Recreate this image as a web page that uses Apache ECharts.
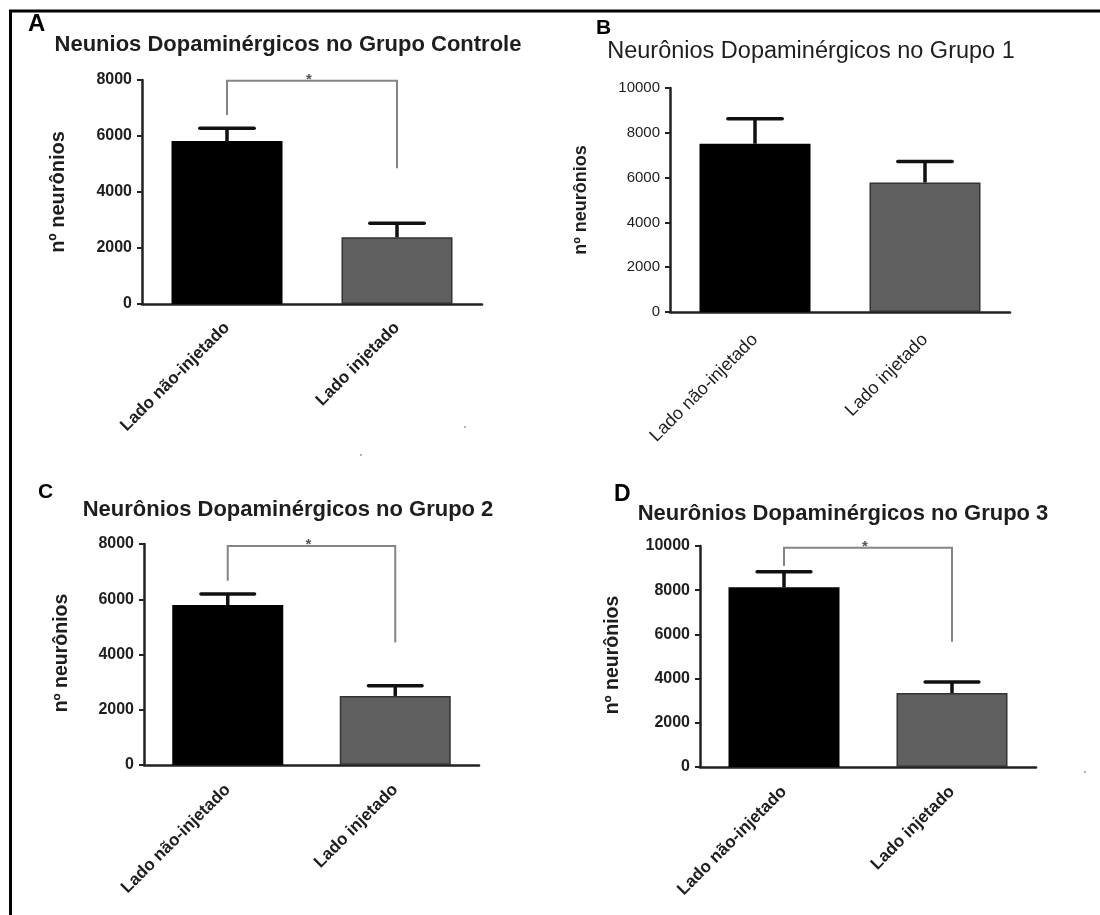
<!DOCTYPE html>
<html><head><meta charset="utf-8">
<script src="https://cdn.jsdelivr.net/npm/echarts@6/dist/echarts.min.js"></script>
<style>html,body{margin:0;padding:0;background:#fff}#c{width:1100px;height:915px}</style>
</head><body><div id="c"></div>
<script>
// ---------- data ----------
const categories = ['Lado não-injetado', 'Lado injetado'];
const titles = [
  'Neunios Dopaminérgicos no Grupo Controle',
  'Neurônios Dopaminérgicos no Grupo 1',
  'Neurônios Dopaminérgicos no Grupo 2',
  'Neurônios Dopaminérgicos no Grupo 3'
];
const panelLetters = ['A', 'B', 'C', 'D'];
const yAxisName = 'nº neurônios';
const meanA = [5820, 2380];
const errTopA = [6275, 2880];
const meanB = [7510, 5780];
const errTopB = [8630, 6720];
const meanC = [5790, 2500];
const errTopC = [6190, 2870];
const meanD = [8130, 3350];
const errTopD = [8840, 3850];
// significance brackets: [bar height, left leg end, right leg end]
const bracketA = [7975, 6750, 4850];
const bracketC = [7930, 6670, 4430];
const bracketD = [9925, 9095, 5665];
const yMax = [8000, 10000, 8000, 10000];
const yInterval = 2000;
const sigLabel = '*';

// ---------- layout / style ----------
const FONT = 'Liberation Sans, Arial, sans-serif';
const TXT = '#1e1e1e';
const panels = [
  {mean: meanA, err: errTopA, br: bracketA, grid: {left: 142, top: 80, width: 340, height: 224}, bold: true, xMargin: 21,
   title: {x: 288, y: 45, size: 22}, letter: {x: 28, y: 24, size: 24}, ylab: {x: 58, y: 192, size: 20}},
  {mean: meanB, err: errTopB, br: null, grid: {left: 670, top: 88, width: 340, height: 224}, bold: false, xMargin: 25,
   title: {x: 811, y: 52, size: 23.5}, letter: {x: 596, y: 28, size: 21}, ylab: {x: 581, y: 200, size: 18}},
  {mean: meanC, err: errTopC, br: bracketC, grid: {left: 144, top: 544, width: 335, height: 221}, bold: true, xMargin: 22,
   title: {x: 288, y: 510, size: 22}, letter: {x: 38, y: 492, size: 21}, ylab: {x: 62, y: 653, size: 19.5}},
  {mean: meanD, err: errTopD, br: bracketD, grid: {left: 700, top: 546, width: 336, height: 221}, bold: true, xMargin: 22,
   title: {x: 843, y: 514, size: 22}, letter: {x: 614, y: 495, size: 23}, ylab: {x: 613, y: 655, size: 19.5}}
];
const barColors = ['#000000', '#5f5f5f'];
const barBorders = ['#000000', '#333333'];

const option = {
  animation: false,
  backgroundColor: '#ffffff',
  grid: [], xAxis: [], yAxis: [], series: [], graphic: []
};

panels.forEach((p, k) => {
  const fw = p.bold ? 'bold' : 'normal';
  option.grid.push(Object.assign({containLabel: false}, p.grid));
  option.xAxis.push({
    type: 'category', gridIndex: k, data: categories, boundaryGap: true,
    axisLine: {lineStyle: {color: '#222', width: 2.5}},
    axisTick: {alignWithLabel: true, length: 6, lineStyle: {color: '#222', width: 2.5}},
    axisLabel: {rotate: 45, margin: p.xMargin, fontSize: p.bold ? 17 : 18, fontWeight: fw, color: TXT, fontFamily: FONT, interval: 0},
    splitLine: {show: false}
  });
  option.yAxis.push({
    type: 'value', gridIndex: k, min: 0, max: yMax[k], interval: yInterval,
    axisLine: {show: true, lineStyle: {color: '#222', width: 2.5}},
    axisTick: {show: true, length: 5, lineStyle: {color: '#222', width: 2}},
    axisLabel: {margin: 10, fontSize: p.bold ? 16 : 15, fontWeight: fw, color: TXT, fontFamily: FONT,
                formatter: v => String(v)},
    splitLine: {show: false}
  });
  option.series.push({
    type: 'bar', xAxisIndex: k, yAxisIndex: k, barWidth: 111, z: 2,
    data: p.mean.map((v, i) => ({value: v, itemStyle: {color: barColors[i], borderColor: barBorders[i], borderWidth: 1.5}}))
  });
  option.series.push({
    type: 'custom', xAxisIndex: k, yAxisIndex: k, z: 3,
    data: p.err.map((v, i) => [i, p.mean[i], v]),
    renderItem: (params, api) => {
      const top = api.coord([api.value(0), api.value(2)]);
      const base = api.coord([api.value(0), api.value(1)]);
      const half = api.size([1, 0])[0] * 0.16;
      return {type: 'group', children: [
        {type: 'line', shape: {x1: top[0], y1: base[1], x2: top[0], y2: top[1]}, style: {stroke: '#111', lineWidth: 3.5}},
        {type: 'line', shape: {x1: top[0] - half, y1: top[1], x2: top[0] + half, y2: top[1]}, style: {stroke: '#111', lineWidth: 3.5, lineCap: 'round'}}
      ]};
    }
  });
  if (p.br) {
    option.series.push({
      type: 'custom', xAxisIndex: k, yAxisIndex: k, z: 4,
      data: [[0, p.br[0], p.br[1], p.br[2]]],
      renderItem: (params, api) => {
        const a = api.coord([0, api.value(2)]);
        const b = api.coord([0, api.value(1)]);
        const c = api.coord([1, api.value(1)]);
        const d = api.coord([1, api.value(3)]);
        return {type: 'group', children: [
          {type: 'polyline', shape: {points: [a, b, c, d]}, style: {stroke: '#858585', lineWidth: 2, fill: null}},
          {type: 'text', x: (b[0] + c[0]) / 2 - 3, y: b[1] - 1,
           style: {text: sigLabel, fontSize: 15, fontWeight: 'bold', fontFamily: FONT, fill: '#555', align: 'center', verticalAlign: 'middle'}}
        ]};
      }
    });
  }
  option.graphic.push({type: 'text', x: p.title.x, y: p.title.y,
    style: {text: titles[k], fontSize: p.title.size, fontWeight: fw, fontFamily: FONT, fill: TXT, align: 'center', verticalAlign: 'middle'}});
  option.graphic.push({type: 'text', x: p.letter.x, y: p.letter.y,
    style: {text: panelLetters[k], fontSize: p.letter.size, fontWeight: 'bold', fontFamily: FONT, fill: '#000', align: 'left', verticalAlign: 'middle'}});
  option.graphic.push({type: 'text', x: p.ylab.x, y: p.ylab.y, rotation: Math.PI / 2,
    style: {text: yAxisName, fontSize: p.ylab.size, fontWeight: 'bold', fontFamily: FONT, fill: TXT, align: 'center', verticalAlign: 'middle'}});
});

// frame (top and left edges) and small specks
option.graphic.push({type: 'line', shape: {x1: 9, y1: 11, x2: 1100, y2: 11}, style: {stroke: '#000', lineWidth: 3}});
option.graphic.push({type: 'line', shape: {x1: 10.5, y1: 10, x2: 10.5, y2: 915}, style: {stroke: '#000', lineWidth: 3}});
[[465, 427], [361, 455], [1085, 772]].forEach(pt => option.graphic.push({type: 'circle', shape: {cx: pt[0], cy: pt[1], r: 1}, style: {fill: '#999'}}));

const chart = echarts.init(document.getElementById('c'));
chart.setOption(option);
</script>
</body></html>
